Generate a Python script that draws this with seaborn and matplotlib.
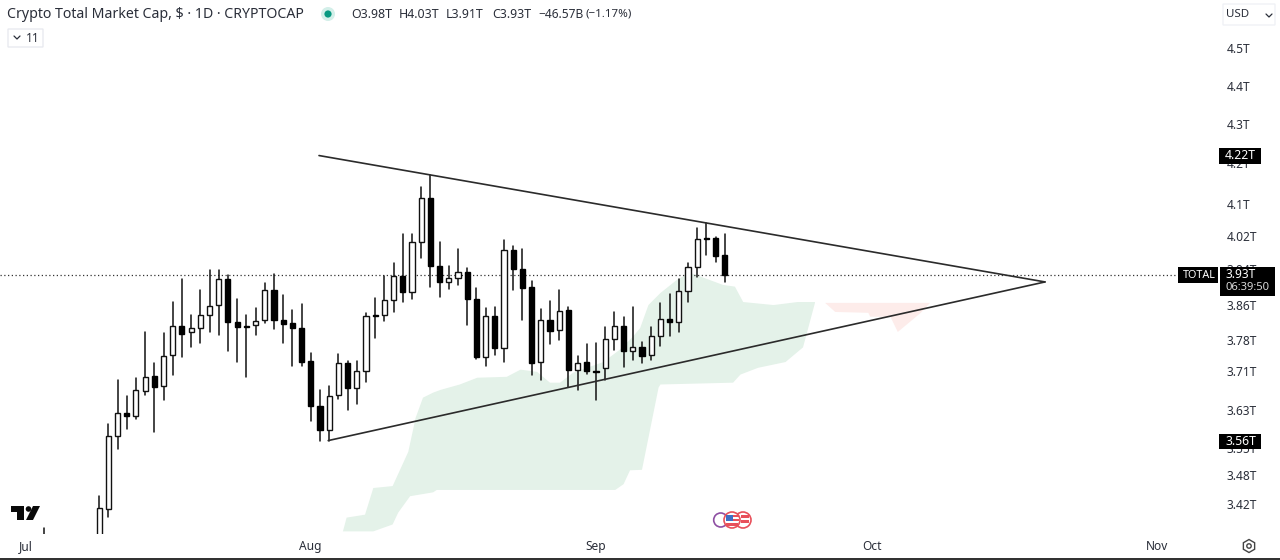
import numpy as np
import pandas as pd
import matplotlib
matplotlib.use("Agg")
import matplotlib.pyplot as plt
from matplotlib.patches import Rectangle, Circle, Polygon, FancyBboxPatch
from matplotlib.ticker import NullLocator
import seaborn as sns

# days counted from 1 Jul, values in trillions
days = [2] + list(range(8, 77))
highs = [3.370, 3.436, 3.589, 3.685, 3.650, 3.689, 3.794, 3.723, 3.790, 3.863, 3.916, 3.831, 3.890, 3.936, 3.936,
         3.926, 3.869, 3.831, 3.848, 3.907, 3.927, 3.879, 3.844, 3.857, 3.745, 3.662, 3.671, 3.744, 3.728, 3.728,
         3.836, 3.871, 3.924, 3.953, 4.023, 4.023, 4.138, 4.169, 4.003, 3.947, 3.987, 3.941, 3.894, 3.848, 3.851,
         4.008, 3.995, 3.987, 3.912, 3.846, 3.865, 3.889, 3.851, 3.739, 3.766, 3.769, 3.804, 3.839, 3.827, 3.850,
         3.771, 3.805, 3.859, 3.881, 3.916, 3.953, 4.037, 4.051, 4.015, 4.024]
lows = [3.280, 3.327, 3.394, 3.534, 3.578, 3.599, 3.651, 3.572, 3.640, 3.696, 3.737, 3.758, 3.768, 3.794, 3.785,
        3.750, 3.725, 3.691, 3.786, 3.813, 3.799, 3.769, 3.717, 3.717, 3.596, 3.553, 3.553, 3.644, 3.620, 3.633,
        3.680, 3.780, 3.819, 3.839, 3.862, 3.869, 3.965, 3.896, 3.873, 3.892, 3.902, 3.808, 3.732, 3.717, 3.740,
        3.725, 3.890, 3.821, 3.696, 3.685, 3.766, 3.774, 3.669, 3.662, 3.699, 3.640, 3.685, 3.751, 3.714, 3.730,
        3.723, 3.730, 3.762, 3.783, 3.794, 3.863, 3.920, 3.973, 3.957, 3.909]
opens = [3.300, 3.347, 3.410, 3.563, 3.612, 3.607, 3.661, 3.693, 3.671, 3.740, 3.807, 3.792, 3.802, 3.832, 3.854,
         3.916, 3.817, 3.806, 3.808, 3.820, 3.889, 3.821, 3.813, 3.802, 3.728, 3.628, 3.576, 3.651, 3.723, 3.667,
         3.705, 3.832, 3.832, 3.867, 3.923, 3.886, 4.004, 4.112, 3.946, 3.910, 3.918, 3.933, 3.869, 3.736, 3.829,
         3.757, 3.985, 3.940, 3.896, 3.726, 3.820, 3.797, 3.844, 3.708, 3.724, 3.705, 3.711, 3.778, 3.807, 3.749,
         3.758, 3.741, 3.783, 3.822, 3.815, 3.887, 3.944, 4.014, 4.013, 3.973]
closes = [3.340, 3.412, 3.563, 3.612, 3.606, 3.662, 3.691, 3.669, 3.739, 3.807, 3.789, 3.802, 3.831, 3.852, 3.916,
          3.815, 3.804, 3.805, 3.819, 3.889, 3.821, 3.812, 3.802, 3.726, 3.628, 3.576, 3.649, 3.723, 3.667, 3.705,
          3.829, 3.830, 3.867, 3.923, 3.886, 4.003, 4.111, 3.947, 3.908, 3.918, 3.933, 3.869, 3.736, 3.829, 3.757,
          3.984, 3.939, 3.895, 3.723, 3.820, 3.795, 3.841, 3.708, 3.722, 3.704, 3.703, 3.777, 3.807, 3.749, 3.759,
          3.739, 3.784, 3.822, 3.815, 3.888, 3.944, 4.011, 4.012, 3.971, 3.926]

cloud_up_days = [34.5, 34.9, 36.9, 37.8, 39.9, 41.6, 42.4, 43.2, 44.3, 45.1, 47.2, 49.1, 52.3, 53.8, 55.6, 57.0, 58.1,
                 59.5, 62.8, 64.6, 66.0, 66.8, 67.7, 69.0, 70.8, 72.2, 75.8, 77.1, 78.0, 81.3, 83.9, 85.8]
cloud_up_vals = [3.364, 3.392, 3.398, 3.453, 3.457, 3.529, 3.602, 3.646, 3.657, 3.663, 3.675, 3.690, 3.692, 3.708,
                 3.703, 3.679, 3.679, 3.701, 3.725, 3.753, 3.782, 3.802, 3.855, 3.883, 3.914, 3.931, 3.902, 3.898,
                 3.862, 3.855, 3.862, 3.862]
cloud_low_days = [37.8, 39.9, 40.5, 41.8, 44.3, 44.7, 64.1, 65.0, 65.7, 67.0, 68.8, 69.0, 76.9, 77.7, 79.6, 82.6, 84.5, 85.8]
cloud_low_vals = [3.364, 3.378, 3.402, 3.436, 3.444, 3.449, 3.449, 3.461, 3.490, 3.491, 3.668, 3.675, 3.679, 3.697,
                  3.712, 3.725, 3.758, 3.860]
red_days = [86.9, 98.3, 97.3, 94.8, 94.0, 91.8, 91.6, 88.0]
red_vals = [3.860, 3.860, 3.837, 3.793, 3.828, 3.828, 3.837, 3.839]

upper_days = [31.9, 110.8]
upper_vals = [4.218, 3.909]
lower_days = [32.9, 110.8]
lower_vals = [3.553, 3.909]

last_close = 3.926
month_days = [0, 31, 62, 92, 123]
month_labels = ["Jul", "Aug", "Sep", "Oct", "Nov"]
tick_vals = [4.5, 4.399, 4.3, 4.2, 4.097, 4.018, 3.94, 3.855, 3.775, 3.704, 3.620, 3.538, 3.480, 3.420]
tick_labels = ["4.5T", "4.4T", "4.3T", "4.2T", "4.1T", "4.02T", "3.94T", "3.86T", "3.78T", "3.71T", "3.63T", "3.55T",
               "3.48T", "3.42T"]

sns.set_theme(style="white")
plt.rcParams["font.family"] = ["Noto Sans", "DejaVu Sans"]
TXT = "#2a2e39"

fig = plt.figure(figsize=(12.8, 5.6), dpi=100)
ax = fig.add_axes([0, 26 / 560, 1218 / 1280, 534 / 560])
ax.set_yscale("log")

ax.fill(cloud_up_days + cloud_low_days[::-1], cloud_up_vals + cloud_low_vals[::-1], color="#e4f2e9", lw=0, zorder=1)
ax.fill(red_days, red_vals, color="#fdecea", lw=0, zorder=1)
ax.axhline(last_close, color="#333333", lw=0.9, ls=(0, (1, 2)), zorder=1.5)

wicks = pd.DataFrame({"day": days + days, "price": highs + lows})
sns.lineplot(data=wicks, x="day", y="price", units="day", estimator=None, color="#111111", lw=1.1, ax=ax, zorder=2)

frame = pd.DataFrame({"day": days, "open": opens, "close": closes})
up = frame[frame["close"] >= frame["open"]]
down = frame[frame["close"] < frame["open"]]
ax.bar(up["day"], up["close"] - up["open"], bottom=up["open"], width=0.56, facecolor="white", edgecolor="#111111",
       lw=1.0, zorder=3)
ax.bar(down["day"], down["open"] - down["close"], bottom=down["close"], width=0.56, facecolor="black",
       edgecolor="black", lw=1.0, zorder=3)

for line_days, line_vals in [(upper_days, upper_vals), (lower_days, lower_vals)]:
    trend = pd.DataFrame({"day": line_days, "price": line_vals})
    sns.lineplot(data=trend, x="day", y="price", color="#2b2b2b", lw=1.2, ax=ax, zorder=4)

ax.set_xlim(-2.77, 129.6)
ax.set_ylim(3.3587, 4.632)
ax.set_xlabel("")
ax.set_ylabel("")
ax.yaxis.tick_right()
ax.yaxis.set_minor_locator(NullLocator())
ax.set_yticks(tick_vals)
ax.set_yticklabels(tick_labels, fontsize=8.6, color=TXT)
ax.set_xticks(month_days)
ax.set_xticklabels(month_labels, fontsize=8.6, color=TXT)
ax.tick_params(axis="y", length=0, pad=6)
ax.tick_params(axis="x", length=0, pad=4)
for sp in ax.spines.values():
    sp.set_visible(False)


def px_text(x, y, s, **kw):
    kw.setdefault("color", TXT)
    kw.setdefault("va", "center")
    return fig.text(x / 1280, 1 - y / 560, s, **kw)


def fx(x, y):
    return (x / 1280, 1 - y / 560)


def add_rect(x0, y0, x1, y1, **kw):
    fig.add_artist(Rectangle(fx(x0, y1), (x1 - x0) / 1280, (y1 - y0) / 560, transform=fig.transFigure, **kw))


def add_poly(pts, **kw):
    fig.add_artist(Polygon([fx(*p) for p in pts], closed=True, transform=fig.transFigure, **kw))


def add_circle(x, y, r, **kw):
    # figure is not square, so draw in pixel space
    fig.add_artist(Circle((x, 560 - y), r, transform=None, **kw))


# header
px_text(7, 14.5, "Crypto Total Market Cap, $ · 1D · CRYPTOCAP", fontsize=10.2)
add_circle(328, 14, 7, facecolor="#d3efe9", edgecolor="none")
add_circle(328, 14, 3.6, facecolor="#089981", edgecolor="none")
for x, s in [(351, "O3.98T"), (399, "H4.03T"), (446, "L3.91T"), (492, "C3.93T")]:
    px_text(x, 14.5, s, fontsize=8.9)
px_text(538, 14.5, "−46.57B", fontsize=8.6)
px_text(586, 14.5, "(−1.17%)", fontsize=8.3)

# collapse button
fig.add_artist(FancyBboxPatch((8 / 1280, 1 - 47 / 560), 35 / 1280, 18 / 560, boxstyle="round,pad=0",
                              transform=fig.transFigure, facecolor="white", edgecolor="#e6e8ee", lw=0.9))
fig.add_artist(plt.Line2D([14 / 1280, 17 / 1280, 20 / 1280], [1 - 36 / 560, 1 - 39 / 560, 1 - 36 / 560],
                          color=TXT, lw=0.9, transform=fig.transFigure))
px_text(26, 38, "11", fontsize=8.6)

# currency button
fig.add_artist(FancyBboxPatch((1223 / 1280, 1 - 25 / 560), 52 / 1280, 21 / 560, boxstyle="round,pad=0",
                              transform=fig.transFigure, facecolor="white", edgecolor="#eef0f5", lw=0.9))
px_text(1226, 14.5, "USD", fontsize=8.3)
fig.add_artist(plt.Line2D([1266 / 1280, 1269 / 1280, 1272 / 1280], [1 - 14 / 560, 1 - 17 / 560, 1 - 14 / 560],
                          color=TXT, lw=0.9, transform=fig.transFigure))

# price boxes
add_rect(1219, 148, 1261, 163.5, facecolor="black", edgecolor="none", zorder=8)
px_text(1225, 155.5, "4.22T", color="white", fontsize=8.8, fontweight="bold", zorder=9)
add_rect(1219, 433.5, 1261, 449, facecolor="black", edgecolor="none", zorder=8)
px_text(1225, 441.5, "3.56T", color="white", fontsize=8.8, fontweight="bold", zorder=9)
add_rect(1178, 267, 1218, 283, facecolor="black", edgecolor="none", zorder=8)
px_text(1183, 275, "TOTAL", color="white", fontsize=7.8, zorder=9)
add_rect(1220, 267, 1275, 296, facecolor="black", edgecolor="none", zorder=8)
px_text(1226, 274.5, "3.93T", color="white", fontsize=8.6, fontweight="bold", zorder=9)
px_text(1226, 288, "06:39:50", color="#d8d8d8", fontsize=8.1, zorder=9)

# logo
add_poly([(11, 506), (24, 506), (24, 520), (17, 520), (17, 512), (11, 512)], facecolor="#0a0a0a", edgecolor="none")
add_circle(28.5, 509, 2.8, facecolor="#0a0a0a", edgecolor="none")
add_poly([(33, 506), (40, 506), (33, 520), (26, 520)], facecolor="#0a0a0a", edgecolor="none")

# event badges
add_circle(720.7, 520, 7, facecolor="white", edgecolor="#8e4fa3", lw=1.2)
add_circle(743, 520, 8, facecolor="white", edgecolor="#e8505b", lw=1.2)
add_rect(741, 515, 749, 517.5, facecolor="#e8505b", edgecolor="none")
add_rect(741, 520, 749, 522.5, facecolor="#e8505b", edgecolor="none")
add_circle(732, 520, 8, facecolor="white", edgecolor="#e8505b", lw=1.2)
add_rect(726, 514.5, 733, 520.5, facecolor="#3f6fc4", edgecolor="none")
add_rect(733, 515, 738.5, 517, facecolor="#e8505b", edgecolor="none")
add_rect(733, 519, 739, 521, facecolor="#e8505b", edgecolor="none")
add_rect(726, 523, 738, 525.5, facecolor="#e8505b", edgecolor="none")

# settings gear and bottom rule
angles = np.deg2rad(np.arange(0, 360, 60) + 30)
add_poly([(1249 + 6.5 * np.cos(a), 546 + 6.5 * np.sin(a)) for a in angles], facecolor="white", edgecolor="#444444", lw=1.0)
add_circle(1249, 546, 2.2, facecolor="white", edgecolor="#444444", lw=1.0)
add_rect(0, 558, 1280, 560, facecolor="#333333", edgecolor="none")

fig.savefig("out.png", dpi=100)
